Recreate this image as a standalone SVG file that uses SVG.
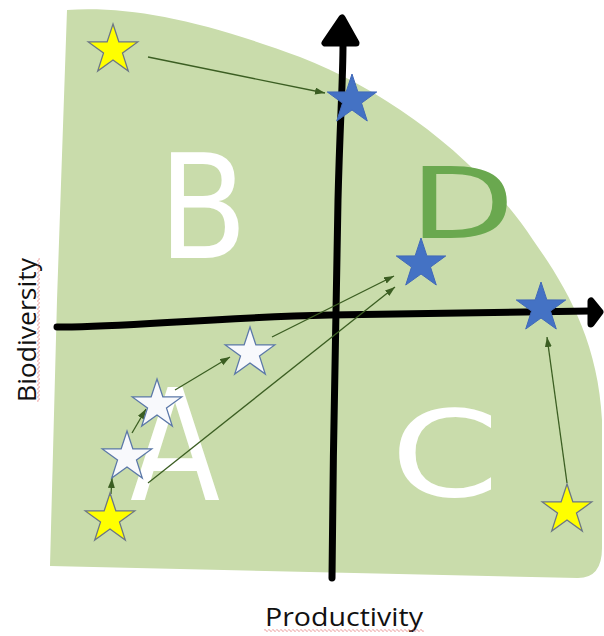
<svg xmlns="http://www.w3.org/2000/svg" width="604" height="636" viewBox="0 0 604 636">
<style>
.axis{fill:none;stroke:#000;stroke-width:7;stroke-linecap:round;stroke-linejoin:round}
.head{fill:#000;stroke:#000;stroke-width:7;stroke-linejoin:round}
.conn{fill:none;stroke:#3b5e22;stroke-width:1.3}
.letter{font-family:"DejaVu Sans",sans-serif;text-anchor:middle}
.w{fill:#fff}
.g{fill:#6aa84f}
.lbl{font-family:"Open Sans","Liberation Sans",sans-serif;font-size:26px;fill:#111}
.yel{fill:#ffff00;stroke:#6b7686;stroke-width:1.3}
.blu{fill:#4472c4;stroke:#4169b8;stroke-width:1}
.wht{fill:#f8f9fc;stroke:#5b78a8;stroke-width:1.3}
</style>
<defs>
<path id="star" d="M0,-26 L5.88,-8.09 L24.73,-8.03 L9.51,3.09 L15.28,21.03 L0,10 L-15.28,21.03 L-9.51,3.09 L-24.73,-8.03 L-5.88,-8.09 Z"/>
<marker id="ah" markerUnits="userSpaceOnUse" markerWidth="11" markerHeight="8" refX="10" refY="3.5" orient="auto">
<path d="M0,0 L10,3.5 L0,7 Z" fill="#3b5e22"/>
</marker>
<pattern id="wavy" patternUnits="userSpaceOnUse" width="4" height="4">
<path d="M0,2.5 Q1,0.5 2,2.5 T4,2.5" fill="none" stroke="#e06666" stroke-width="0.8"/>
</pattern>
</defs>
<rect width="604" height="636" fill="#fff"/>
<path id="region" d="M67,10 C130,6 200,20 300,57 C390,92 480,160 533,240 C565,285 598,340 602,420 L602,548 Q602,578 578,578 L50,566 L57,300 Z" fill="#c9dcab"/>
<g id="letters">
<text class="letter w" transform="translate(203,258) scale(0.9,1)" x="0" y="0" font-size="145">B</text>
<text class="letter w" transform="translate(175,500) scale(0.85,1)" x="0" y="0" font-size="155">A</text>
<text class="letter w" transform="translate(445,496) scale(1.3,1)" x="0" y="0" font-size="120">C</text>
<text class="letter g" transform="translate(462,238) scale(1.4,1)" x="0" y="0" font-size="98">D</text>
</g>
<g id="axes">
<path class="axis" d="M57,327 C120,328 200,318 330,315 L590,311"/>
<path class="head" d="M600,312 L591,301 L591,324 Z"/>
<path class="axis" d="M332,578 C333,450 336,300 338,200 C340,120 343,80 343,44"/>
<path class="head" d="M342,18 L325,43 L356,43 Z"/>
</g>
<g id="connectors">
<line class="conn" x1="148" y1="57" x2="325" y2="93" marker-end="url(#ah)"/>
<line class="conn" x1="111" y1="494" x2="112" y2="478" marker-end="url(#ah)"/>
<line class="conn" x1="132" y1="433" x2="146" y2="409" marker-end="url(#ah)"/>
<line class="conn" x1="175" y1="390" x2="230" y2="357" marker-end="url(#ah)"/>
<line class="conn" x1="272" y1="337" x2="394" y2="276" marker-end="url(#ah)"/>
<line class="conn" x1="148" y1="483" x2="395" y2="287" marker-end="url(#ah)"/>
<line class="conn" x1="567" y1="483" x2="547" y2="337" marker-end="url(#ah)"/>
</g>
<g id="star-yellow-top"><use href="#star" class="yel" transform="translate(113,50)"/></g>
<g id="star-blue-top"><use href="#star" class="blu" transform="translate(352,100)"/></g>
<g id="star-blue-d"><use href="#star" class="blu" transform="translate(421,264)"/></g>
<g id="star-blue-right"><use href="#star" class="blu" transform="translate(541,308)"/></g>
<g id="star-yellow-right"><use href="#star" class="yel" transform="translate(567,510)"/></g>
<g id="star-yellow-left"><use href="#star" class="yel" transform="translate(110,519)"/></g>
<g id="star-white-1"><use href="#star" class="wht" transform="translate(127,457)"/></g>
<g id="star-white-2"><use href="#star" class="wht" transform="translate(157,405)"/></g>
<g id="star-white-3"><use href="#star" class="wht" transform="translate(250,353)"/></g>
<g id="label-productivity">
<text class="lbl" x="265" y="626" textLength="158" lengthAdjust="spacingAndGlyphs">Productivity</text>
<rect x="264" y="628" width="160" height="4" fill="url(#wavy)"/>
</g>
<g id="label-biodiversity" transform="translate(36,402) rotate(-90)">
<text class="lbl" x="0" y="0" textLength="144" lengthAdjust="spacingAndGlyphs">Biodiversity</text>
<rect x="0" y="0" width="144" height="4" fill="url(#wavy)"/>
</g>
</svg>
